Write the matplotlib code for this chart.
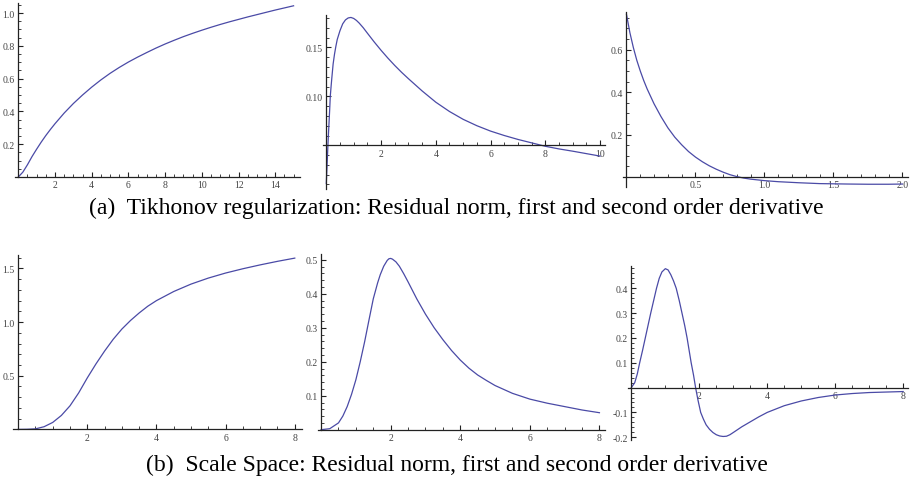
import matplotlib
matplotlib.use("Agg")
import matplotlib.pyplot as plt
from matplotlib.ticker import MultipleLocator, FixedLocator

# ---- data ----
# (a) Tikhonov regularization
tik_norm_x = [0, 0.25, 0.5, 0.75, 1, 1.25, 1.5, 1.75, 2, 2.5, 3, 3.5, 4, 4.5, 5, 5.5,
              6, 6.5, 7, 7.5, 8, 8.5, 9, 9.5, 10, 10.5, 11, 11.5, 12, 12.5, 13,
              13.5, 14, 14.5, 15]
tik_norm_y = [0, 0.03, 0.075, 0.125, 0.17, 0.213, 0.253, 0.29, 0.325, 0.39, 0.448,
              0.5, 0.548, 0.592, 0.632, 0.668, 0.701, 0.731, 0.759, 0.786, 0.811,
              0.834, 0.856, 0.876, 0.895, 0.913, 0.93, 0.946, 0.961, 0.976, 0.99,
              1.004, 1.018, 1.031, 1.044]

tik_d1_x = [0, 0.02, 0.04, 0.06, 0.08, 0.1, 0.125, 0.146, 0.175, 0.2, 0.25, 0.3,
            0.35, 0.4, 0.5, 0.6, 0.7, 0.8, 0.9, 1.0, 1.1, 1.2, 1.35, 1.5, 1.75, 2,
            2.25, 2.5, 2.75, 3, 3.5, 4, 4.5, 5, 5.5, 6, 6.5, 7, 7.5, 8, 8.5, 9,
            9.5, 10]
tik_d1_y = [0.011, 0.024, 0.037, 0.05, 0.062, 0.073, 0.087, 0.1, 0.11, 0.118, 0.133,
            0.143, 0.151, 0.158, 0.167, 0.174, 0.178, 0.18, 0.1805, 0.1795, 0.1775,
            0.1748, 0.17, 0.1645, 0.1555, 0.147, 0.139, 0.1315, 0.1245, 0.118,
            0.1055, 0.094, 0.0845, 0.0765, 0.07, 0.0645, 0.06, 0.056, 0.0525,
            0.049, 0.0463, 0.044, 0.0415, 0.039]

tik_d2_x = [0, 0.025, 0.05, 0.075, 0.1, 0.125, 0.15, 0.175, 0.2, 0.25, 0.3, 0.35,
            0.4, 0.45, 0.5, 0.55, 0.6, 0.65, 0.7, 0.75, 0.8, 0.85, 0.9, 1.0, 1.1,
            1.25, 1.4, 1.5, 1.6, 1.75, 1.9, 2.0]
tik_d2_y = [0.767, 0.68, 0.61, 0.55, 0.5, 0.455, 0.415, 0.38, 0.345, 0.285, 0.232,
            0.188, 0.152, 0.12, 0.094, 0.072, 0.053, 0.037, 0.023, 0.011, 0.002,
            -0.005, -0.01, -0.017, -0.022, -0.027, -0.031, -0.032, -0.033, -0.034,
            -0.034, -0.033]

# (b) Scale space
ss_norm_x = [0, 0.25, 0.5, 0.75, 1.0, 1.25, 1.5, 1.75, 2.0, 2.25, 2.5, 2.75, 3.0,
             3.25, 3.5, 3.75, 4.0, 4.5, 5.0, 5.5, 6.0, 6.5, 7.0, 7.5, 8.0]
ss_norm_y = [0, 0.001, 0.005, 0.025, 0.065, 0.13, 0.22, 0.34, 0.48, 0.61, 0.73,
             0.84, 0.935, 1.015, 1.085, 1.148, 1.2, 1.285, 1.354, 1.41, 1.457,
             1.497, 1.533, 1.566, 1.596]

ss_d1_x = [0, 0.25, 0.5, 0.625, 0.75, 0.875, 1.0, 1.125, 1.25, 1.375, 1.5, 1.625,
           1.7, 1.8, 1.9, 1.95, 2.0, 2.05, 2.15, 2.25, 2.375, 2.5, 2.625, 2.75,
           3.0, 3.25, 3.5, 3.75, 4.0, 4.25, 4.5, 4.75, 5.0, 5.5, 6.0, 6.5, 7.0,
           7.5, 8.0]
ss_d1_y = [0, 0.003, 0.02, 0.04, 0.068, 0.104, 0.147, 0.2, 0.258, 0.322, 0.385,
           0.432, 0.456, 0.481, 0.498, 0.503, 0.504, 0.502, 0.494, 0.481, 0.459,
           0.435, 0.41, 0.385, 0.34, 0.30, 0.265, 0.233, 0.205, 0.181, 0.161,
           0.145, 0.13, 0.107, 0.09, 0.078, 0.068, 0.058, 0.05]

ss_d2_x = [0, 0.1, 0.175, 0.245, 0.33, 0.41, 0.49, 0.57, 0.655, 0.74, 0.82, 0.9,
           1.0, 1.08, 1.16, 1.24, 1.32, 1.41, 1.49, 1.57, 1.64, 1.7, 1.76, 1.83,
           1.89, 1.96, 2.04, 2.12, 2.2, 2.3, 2.4, 2.5, 2.6, 2.7, 2.8, 2.9, 3.0,
           3.25, 3.5, 3.75, 4.0, 4.5, 5.0, 5.5, 6.0, 6.5, 7.0, 7.5, 8.0]
ss_d2_y = [0, 0.02, 0.055, 0.1, 0.15, 0.2, 0.25, 0.3, 0.35, 0.4, 0.44, 0.466,
           0.479, 0.474, 0.455, 0.43, 0.4, 0.35, 0.3, 0.25, 0.2, 0.15, 0.1, 0.05,
           0, -0.05, -0.1, -0.127, -0.15, -0.168, -0.181, -0.19, -0.195, -0.197,
           -0.196, -0.19, -0.181, -0.158, -0.138, -0.118, -0.1, -0.073, -0.054,
           -0.04, -0.03, -0.024, -0.02, -0.018, -0.016]

caption_a = "(a)  Tikhonov regularization: Residual norm, first and second order derivative"
caption_b = "(b)  Scale Space: Residual norm, first and second order derivative"

W, H = 911, 481
LINE = "#4a4aa6"
TICKCOL = "#444444"

fig = plt.figure(figsize=(W / 100, H / 100), dpi=100)


def px_axes(left, right, top, bottom):
    return fig.add_axes([left / W, 1 - bottom / H, (right - left) / W, (bottom - top) / H])


def style(ax, xlim, ylim, xmaj, xmin_step, ymaj, ymin_step, ycross=0.0, yfmt="%.1f", xfmt="%g"):
    ax.set_xlim(*xlim)
    ax.set_ylim(*ylim)
    for s in ("top", "right"):
        ax.spines[s].set_visible(False)
    ax.spines["left"].set_position(("data", 0))
    ax.spines["bottom"].set_position(("data", ycross))
    for s in ("left", "bottom"):
        ax.spines[s].set_linewidth(0.9)
        ax.spines[s].set_color("#222222")
    ax.xaxis.set_major_locator(FixedLocator(xmaj))
    ax.yaxis.set_major_locator(FixedLocator(ymaj))
    ax.xaxis.set_minor_locator(MultipleLocator(xmin_step))
    ax.yaxis.set_minor_locator(MultipleLocator(ymin_step))
    ax.set_xticklabels([xfmt % v for v in xmaj])
    ax.set_yticklabels([yfmt % v for v in ymaj])
    ax.tick_params(which="major", direction="in", length=3.5, width=0.8,
                   labelsize=7, labelcolor=TICKCOL, pad=2.5, color="#222222")
    ax.tick_params(which="minor", direction="in", length=2, width=0.6, color="#222222")
    for lab in ax.get_xticklabels() + ax.get_yticklabels():
        lab.set_family("Liberation Serif")
    ax.patch.set_visible(False)


# (a) row
ax = px_axes(15, 300, 4, 178)
ax.plot(tik_norm_x, tik_norm_y, color=LINE, lw=0.9)
style(ax, (-0.18, 15.35), (0, 1.061), [2, 4, 6, 8, 10, 12, 14], 0.5,
      [0.2, 0.4, 0.6, 0.8, 1.0], 0.05)

ax = px_axes(323, 605, 16, 190)
ax.plot(tik_d1_x, tik_d1_y, color=LINE, lw=0.9)
style(ax, (-0.12, 10.18), (0.0054, 0.183), [2, 4, 6, 8, 10], 0.5,
      [0.10, 0.15], 0.01, ycross=0.05, yfmt="%.2f")

ax = px_axes(623, 908, 12.7, 188)
ax.plot(tik_d2_x, tik_d2_y, color=LINE, lw=0.9)
style(ax, (-0.025, 2.04), (-0.047, 0.779), [0.5, 1.0, 1.5, 2.0], 0.1,
      [0.2, 0.4, 0.6], 0.05, xfmt="%.1f")

# (b) row
ax = px_axes(13.3, 301.7, 256, 430.4)
ax.plot(ss_norm_x, ss_norm_y, color=LINE, lw=0.9)
style(ax, (-0.14, 8.2), (0, 1.625), [2, 4, 6, 8], 0.5, [0.5, 1.0, 1.5], 0.1)

ax = px_axes(318.3, 605, 255, 430.7)
ax.plot(ss_d1_x, ss_d1_y, color=LINE, lw=0.9)
style(ax, (-0.08, 8.16), (0, 0.517), [2, 4, 6, 8], 0.5,
      [0.1, 0.2, 0.3, 0.4, 0.5], 0.02)

ax = px_axes(628.3, 908.3, 266.7, 440.7)
ax.plot(ss_d2_x, ss_d2_y, color=LINE, lw=0.9)
style(ax, (-0.09, 8.15), (-0.21, 0.491), [2, 4, 6, 8], 0.5,
      [-0.2, -0.1, 0.1, 0.2, 0.3, 0.4], 0.02)

# captions
fig.text(456 / W, 1 - 208 / H, caption_a, ha="center", va="center",
         family="Liberation Serif", fontsize=17, color="black")
fig.text(457 / W, 1 - 465 / H, caption_b, ha="center", va="center",
         family="Liberation Serif", fontsize=17, color="black")

fig.savefig("out.png", dpi=100)
